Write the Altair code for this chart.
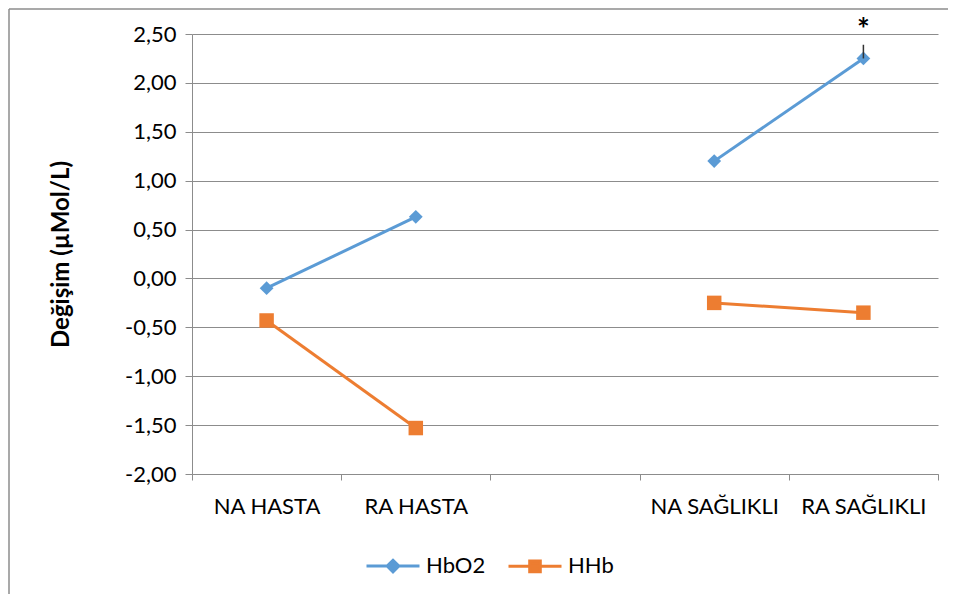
import altair as alt
import pandas as pd

# ---- data ----
slots = ["NA HASTA", "RA HASTA", "", "NA SAĞLIKLI", "RA SAĞLIKLI"]
categories = ["NA HASTA", "RA HASTA", "NA SAĞLIKLI", "RA SAĞLIKLI"]
groups = ["HASTA", "HASTA", "SAĞLIKLI", "SAĞLIKLI"]
hbo2 = [-0.10, 0.63, 1.20, 2.25]
hhb = [-0.43, -1.53, -0.25, -0.35]
series = ["HbO2", "HHb"]
colors = ["#5B9BD5", "#ED7D31"]
shapes = ["diamond", "square"]
y_ticks = [-2.0, -1.5, -1.0, -0.5, 0.0, 0.5, 1.0, 1.5, 2.0, 2.5]
sig_cat = "RA SAĞLIKLI"
sig_value = 2.25
sig_upper = 2.39
sig_text = "*"

FONT = "Lato"
GRID = "#8C8C8C"

rows = []
for s, vals in zip(series, [hbo2, hhb]):
    for c, g, v in zip(categories, groups, vals):
        rows.append({"series": s, "cat": c, "group": g, "value": v,
                     "pos": slots.index(c) + 0.5})
df = pd.DataFrame(rows)

sig_df = pd.DataFrame([{"pos": slots.index(sig_cat) + 0.5, "value": sig_value,
                        "upper": sig_upper, "label": sig_text}])

label_arr = "[" + ",".join("'" + s + "'" for s in slots) + "]"
x_values = [i * 0.5 for i in range(0, 2 * len(slots) + 1)]

x_enc = alt.X(
    "pos:Q",
    scale=alt.Scale(domain=[0, len(slots)], nice=False, zero=False),
    axis=alt.Axis(
        values=x_values,
        labelExpr=f"datum.value % 1 == 0 ? '' : {label_arr}[floor(datum.value)]",
        tickOpacity=alt.condition("datum.value % 1 == 0", alt.value(1), alt.value(0)),
        tickSize=6, tickColor=GRID, tickWidth=1,
        domainColor=GRID, domainWidth=1,
        grid=False, title=None,
        labelFont=FONT, labelFontSize=22, labelColor="#000000",
        labelPadding=16, labelFlush=False, labelOverlap=False, labelBound=False,
    ),
)
y_enc = alt.Y(
    "value:Q",
    scale=alt.Scale(domain=[-2, 2.5], nice=False, zero=False),
    axis=alt.Axis(
        values=y_ticks,
        labelExpr="replace(replace(format(datum.value, '.2f'), '.', ','), '\u2212', '-')",
        tickSize=7, tickColor=GRID, tickWidth=1,
        domainColor=GRID, domainWidth=1,
        gridColor=GRID, gridWidth=1,
        labelFont=FONT, labelFontSize=22, labelColor="#000000", labelPadding=9,
        title="Değişim (µMol/L)", titleFont=FONT, titleFontSize=24,
        titleFontWeight="bold", titleColor="#000000", titlePadding=51,
    ),
)

base = alt.Chart(df)
layers = []
for s, c, sh in zip(series, colors, shapes):
    sub = base.transform_filter(alt.datum.series == s)
    layers.append(sub.mark_line(color=c, strokeWidth=3).encode(
        x=x_enc, y=y_enc, detail="group:N"))
for s, c, sh in zip(series, colors, shapes):
    sub = base.transform_filter(alt.datum.series == s)
    size = 190 if sh == "diamond" else 210
    layers.append(sub.mark_point(filled=True, shape=sh, size=size, color=c,
                                 opacity=1).encode(x="pos:Q", y="value:Q"))

# legend: line-with-marker symbols, drawn only in the legend
leg_paths = ["M-1,0H1M0,-0.22L0.22,0L0,0.22L-0.22,0Z",
             "M-1,0H1M-0.2,-0.2H0.2V0.2H-0.2Z"]
leg = alt.Legend(title=None, orient="none", direction="horizontal",
                 legendX=173, legendY=504, symbolSize=2809,
                 symbolStrokeWidth=3, labelFont=FONT, labelFontSize=22,
                 labelColor="#000000", labelOffset=5, columnPadding=16,
                 symbolOpacity=1)
layers.append(
    base.transform_filter("false").mark_point(filled=True, opacity=1, strokeWidth=3)
    .encode(
        x="pos:Q", y="value:Q",
        fill=alt.Fill("series:N", scale=alt.Scale(domain=series, range=colors), legend=leg),
        stroke=alt.Stroke("series:N", scale=alt.Scale(domain=series, range=colors), legend=leg),
        shape=alt.Shape("series:N", scale=alt.Scale(domain=series, range=leg_paths), legend=leg),
    )
)

# significance marker
sig = alt.Chart(sig_df)
layers.append(sig.mark_rule(color="#333333", strokeWidth=1.5).encode(
    x="pos:Q", y="value:Q", y2="upper:Q"))
layers.append(sig.mark_text(font=FONT, fontSize=30, fontWeight="bold",
                            baseline="alphabetic", dy=-5, color="#000000").encode(
    x="pos:Q", y="upper:Q", text="label:N"))

# outer chart frame (top and left edges)
frame_top = alt.Chart(sig_df).mark_rule(color="#8C8C8C", strokeWidth=1.5).encode(
    x=alt.value(-183), x2=alt.value(760), y=alt.value(-25))
frame_left = alt.Chart(sig_df).mark_rule(color="#8C8C8C", strokeWidth=1.5).encode(
    x=alt.value(-183), y=alt.value(-25), y2=alt.value(620))
layers += [frame_top, frame_left]

chart = alt.layer(*layers).properties(
    width=746, height=440,
    padding={"left": 184, "top": 26, "right": 10, "bottom": 120},
    autosize=alt.AutoSizeParams(type="none"),
    background="white",
).configure_view(stroke=None)

chart.save("out.html", embed_options={"renderer": "svg", "actions": False})
